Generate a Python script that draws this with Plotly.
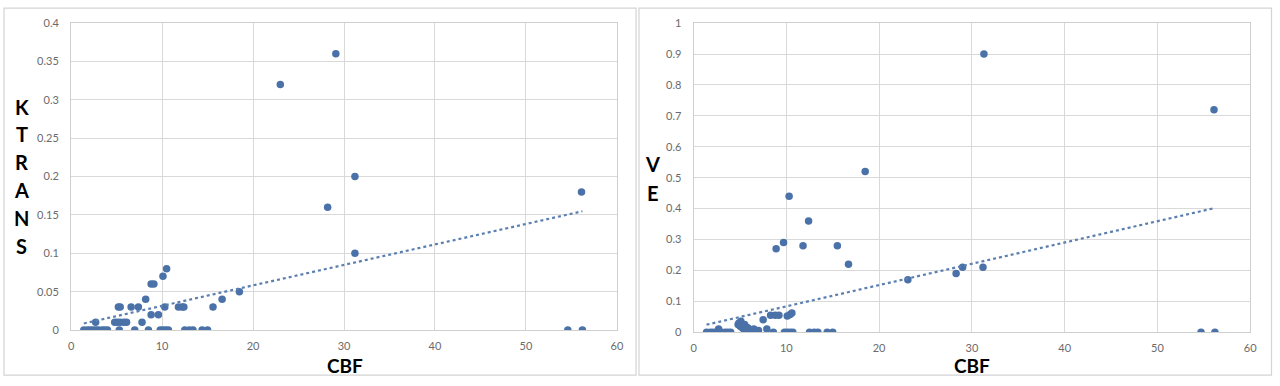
import numpy as np
import plotly.graph_objects as go

# ---------------- data ----------------
cbf_k = [1.4, 1.8, 2.1, 2.4, 2.7, 3.0, 3.4, 3.7, 4.0, 5.3, 7.0, 8.5, 9.8, 10.1, 10.4, 10.7,
         12.5, 13.0, 13.4, 14.4, 15.0, 54.6, 56.2,
         2.7, 4.8, 5.1, 5.4, 5.8, 6.1, 7.8,
         8.8, 9.6,
         5.2, 5.4, 6.6, 7.4, 10.3, 11.8, 12.2, 12.4, 15.6,
         8.2, 16.6, 18.5, 8.8, 9.1, 10.1, 10.5,
         31.2, 28.2, 56.1, 31.2, 23.0, 29.1]
ktrans = [0, 0, 0, 0, 0, 0, 0, 0, 0, 0, 0, 0, 0, 0, 0, 0,
          0, 0, 0, 0, 0, 0, 0,
          0.01, 0.01, 0.01, 0.01, 0.01, 0.01, 0.01,
          0.02, 0.02,
          0.03, 0.03, 0.03, 0.03, 0.03, 0.03, 0.03, 0.03, 0.03,
          0.04, 0.04, 0.05, 0.06, 0.06, 0.07, 0.08,
          0.10, 0.16, 0.18, 0.20, 0.32, 0.36]

cbf_v = [1.4, 1.8, 2.1, 2.4, 2.7, 3.0, 3.4, 3.7, 4.0, 8.6, 9.8, 10.1, 10.4, 10.7,
         12.5, 13.0, 13.4, 14.4, 15.0, 54.7, 56.2,
         2.7, 4.8, 4.9, 5.0, 5.1, 5.2, 5.3, 5.4, 5.5, 5.6, 5.8, 6.0, 6.5, 7.0, 7.5, 7.9,
         8.3, 8.8, 9.2, 10.1, 10.4, 10.6,
         8.9, 9.7, 10.3, 11.8, 12.4, 15.5, 16.7, 18.5, 23.1, 28.3, 29.0, 31.2, 31.3, 56.1]
ve = [0, 0, 0, 0, 0, 0, 0, 0, 0, 0, 0, 0, 0, 0,
      0, 0, 0, 0, 0, 0, 0,
      0.01, 0.025, 0.03, 0.02, 0.035, 0.015, 0.02, 0.01, 0.025, 0.005, 0.015, 0.01, 0.01, 0.005, 0.04, 0.01,
      0.055, 0.055, 0.055, 0.052, 0.057, 0.062,
      0.27, 0.29, 0.44, 0.28, 0.36, 0.28, 0.22, 0.52, 0.17, 0.19, 0.21, 0.21, 0.90, 0.72]

x_ticks = [0, 10, 20, 30, 40, 50, 60]
k_ticks = [0, 0.05, 0.1, 0.15, 0.2, 0.25, 0.3, 0.35, 0.4]
k_tick_text = ["0", "0.05", "0.1", "0.15", "0.2", "0.25", "0.3", "0.35", "0.4"]
v_ticks = [0, 0.1, 0.2, 0.3, 0.4, 0.5, 0.6, 0.7, 0.8, 0.9, 1.0]
v_tick_text = ["0", "0.1", "0.2", "0.3", "0.4", "0.5", "0.6", "0.7", "0.8", "0.9", "1"]

# ---------------- styling ----------------
MARK = "#4a72a8"
TREND = "#5b7fb0"
GRID = "#d9d9d9"
TICKC = "#6b6b6b"
FONT = "Lato"

fig = go.Figure()


def add_panel(xs, ys, xa, ya):
    fig.add_trace(go.Scatter(x=xs, y=ys, mode="markers", xaxis=xa, yaxis=ya,
                             marker=dict(color=MARK, size=7.5), showlegend=False,
                             hoverinfo="x+y"))
    # linear least-squares trendline (as Excel draws it), from min to max x
    m, b = np.polyfit(np.array(xs, float), np.array(ys, float), 1)
    tx = np.array([min(xs), max(xs)])
    fig.add_trace(go.Scatter(x=tx, y=m * tx + b, mode="lines", xaxis=xa, yaxis=ya,
                             line=dict(color=TREND, width=2.2, dash="dot"),
                             showlegend=False, hoverinfo="skip"))


add_panel(cbf_k, ktrans, "x", "y")
add_panel(cbf_v, ve, "x2", "y2")

xcommon = dict(range=[0, 60], tickvals=x_ticks, showgrid=True, gridcolor=GRID, gridwidth=1,
               zeroline=False, showline=True, linecolor="#cfcfcf", mirror=True,
               ticks="", tickfont=dict(family=FONT, size=11, color=TICKC),
               ticklabelstandoff=6, fixedrange=True)
ycommon = dict(showgrid=True, gridcolor=GRID, gridwidth=1, zeroline=False,
               showline=True, linecolor="#cfcfcf", mirror=True, ticks="",
               tickfont=dict(family=FONT, size=11, color=TICKC),
               ticklabelstandoff=9, fixedrange=True)

fig.update_layout(
    width=1280, height=386,
    margin=dict(l=0, r=0, t=0, b=0),
    paper_bgcolor="white", plot_bgcolor="white",
    font=dict(family=FONT),
    xaxis=dict(domain=[68.6 / 1280, 618.8 / 1280], anchor="y", **xcommon),
    yaxis=dict(domain=[1 - 334.3 / 386, 1 - 16.7 / 386], anchor="x", range=[0, 0.4],
               tickvals=k_ticks, ticktext=k_tick_text, **ycommon),
    xaxis2=dict(domain=[696.0 / 1280, 1257.0 / 1280], anchor="y2", **xcommon),
    yaxis2=dict(domain=[1 - 336.5 / 386, 1 - 16.7 / 386], anchor="x2", range=[0, 1],
                tickvals=v_ticks, ticktext=v_tick_text, **ycommon),
)

# panel frames
for x0, x1 in [(1, 638), (641, 1278.5)]:
    fig.add_shape(type="rect", xref="paper", yref="paper",
                  x0=x0 / 1280, x1=x1 / 1280, y0=1 - 381 / 386, y1=1 - 1.2 / 386,
                  line=dict(color="#d4d4d4", width=1.2), fillcolor="rgba(0,0,0,0)",
                  layer="below")

title_font = dict(family=FONT, size=20, color="black")


def add_letters(word, xpix, ypix0, step):
    for i, ch in enumerate(word):
        fig.add_annotation(text="<b>%s</b>" % ch, xref="paper", yref="paper",
                           x=xpix / 1280, y=1 - (ypix0 + i * step) / 386,
                           showarrow=False, font=title_font,
                           xanchor="center", yanchor="middle")


add_letters("KTRANS", 19, 103, 28.8)
add_letters("VE", 655, 162, 30)

for xc in (344.5, 977):
    fig.add_annotation(text="<b>CBF</b>", xref="paper", yref="paper",
                       x=xc / 1280, y=1 - 371 / 386, showarrow=False, borderpad=0,
                       font=dict(family=FONT, size=19, color="black"),
                       xanchor="center", yanchor="middle")

fig.write_html("out.html", config={"displayModeBar": False},
               post_script="document.body.style.margin='0';document.body.style.overflow='hidden';")
